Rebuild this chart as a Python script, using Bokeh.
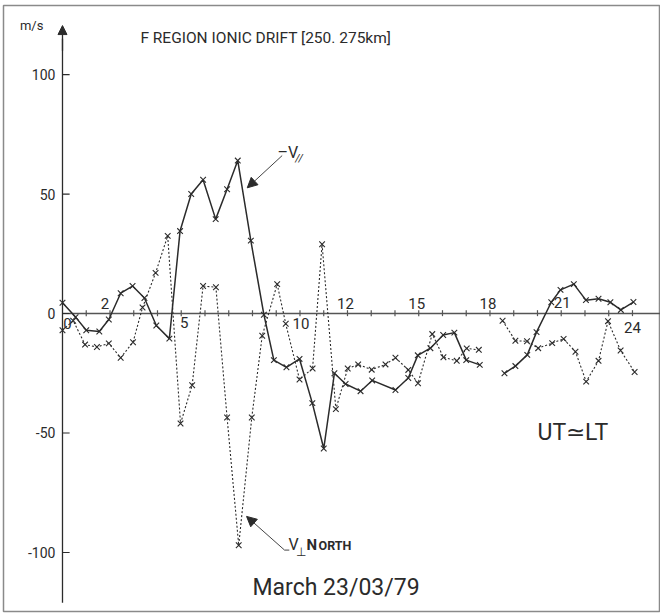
import numpy as np
from bokeh.plotting import figure
from bokeh.models import Range1d, Arrow, NormalHead
from bokeh.core.properties import value
from bokeh.embed import file_html
from bokeh.resources import INLINE

# ---------------- data ----------------
nan = np.nan
# -V// (solid line), hours UT
vpar_t = [0.0, 0.55, 1.0, 1.55, 1.95, 2.45, 2.95, 3.45, 3.95, 4.5,
          4.95, 5.42, 5.92, 6.45, 6.93, 7.38, 7.93, 8.48, 8.9, 9.43,
          9.98, 10.52, 11.0, 11.45, 11.92, 12.55, 13.04, 14.02, 14.56, 14.96,
          15.49, 16.03, 16.5, 17.0, 17.57, nan,
          18.61, 19.07, 19.57, 19.96, 20.58, 20.97, 21.53, 22.04, 22.57, 23.07,
          23.51, 24.04]
vpar_v = [4.5, -1.5, -7.0, -7.5, -2.5, 8.5, 11.5, 6.5, -5.0, -10.5,
          34.5, 50.0, 56.0, 39.5, 52.0, 64.0, 30.5, -0.5, -19.5, -22.5,
          -19.0, -37.5, -56.5, -25.0, -29.5, -32.5, -28.0, -32.0, -27.0, -17.5,
          -14.5, -9.0, -8.0, -19.5, -21.5, nan,
          -25.0, -22.0, -17.3, -7.8, 4.7, 9.9, 12.3, 5.6, 6.2, 4.7,
          1.5, 4.8]

# V_perp North (dotted line)
vperp_t = [0.0, 0.45, 0.95, 1.45, 1.95, 2.45, 2.97, 3.37, 3.92, 4.43,
           4.97, 5.46, 5.92, 6.46, 6.93, 7.42, 7.97, 8.41, 9.04, 9.4,
           9.98, 10.53, 10.93, 11.51, 12.01, 12.45, 13.02, 13.6, 14.02, 14.56,
           14.97, 15.57, 16.04, 16.6, 17.02, 17.53, nan,
           18.53, 19.07, 19.56, 20.03, 20.62, 21.1, 21.6, 22.05, 22.57, 22.97,
           23.5, 24.09]
vperp_v = [-7.0, -3.0, -13.0, -14.0, -12.5, -18.5, -12.0, 2.5, 17.0, 32.5,
           -46.0, -30.0, 11.5, 11.0, -43.5, -97.0, -43.5, -9.3, 12.3, -4.3,
           -27.6, -23.0, 29.0, -40.0, -23.0, -21.3, -23.5, -21.3, -18.5, -23.6,
           -29.2, -8.6, -18.3, -19.8, -14.6, -15.2, nan,
           -3.0, -11.4, -11.6, -14.5, -12.4, -10.6, -16.0, -28.5, -19.8, -3.2,
           -15.5, -24.5]

y_ticks = [100, 50, 0, -50, -100]
y_tick_labels = ["100", "50", "0", "-50", "-100"]
x_minor_ticks = list(range(1, 25))
x_tick_pos = [0, 2, 5, 10, 12, 15, 18, 21, 24]
x_tick_labels = ["0", "2", "5", "10", "12", "15", "18", "21", "24"]

# ---------------- styles ----------------
FONT = "Roboto"
INK = "#2b2b2b"
label_dy = [10, -10, 9, 10, -10, -10, -10, -11, 14]   # px, + is down
label_dx = [5, -5, 3, 1, -2, -2, -2, 1, 0]

p = figure(width=660, height=615, output_backend="svg", toolbar_location=None,
           x_range=Range1d(-2.484, 25.18), y_range=Range1d(-124.7, 128.9),
           x_axis_type=None, y_axis_type=None,
           min_border_left=3, min_border_top=5, min_border_right=0,
           min_border_bottom=4)
p.outline_line_color = "#8a8a8a"
p.outline_line_width = 1.5
p.background_fill_color = "white"
p.border_fill_color = "white"

# axes drawn at the data origin
p.line([0, 25.18], [0, 0], line_color="#555555", line_width=1.3)
p.line([0, 0], [-121, 115], line_color=INK, line_width=1.3)
p.add_layout(Arrow(x_start=0, y_start=110, x_end=0, y_end=120.5, line_color=INK,
                   line_width=1.3,
                   end=NormalHead(size=9, fill_color=INK, line_color=INK)))

# y ticks (inward, to the right) and labels
p.segment(x0=[0] * len(y_ticks), x1=[0.3] * len(y_ticks), y0=y_ticks, y1=y_ticks,
          line_color=INK, line_width=1.2)
p.text(x=[-0.3] * len(y_ticks), y=y_ticks, text=y_tick_labels,
       text_font=value(FONT), text_font_size=value("14px"), text_color=INK,
       text_align="right", text_baseline="middle")

# x ticks (crossing) and labels
p.segment(x0=x_minor_ticks, x1=x_minor_ticks, y0=[-1.1] * len(x_minor_ticks),
          y1=[1.4] * len(x_minor_ticks), line_color="#555555", line_width=1.2)
p.text(x=x_tick_pos, y=[0] * len(x_tick_pos), text=x_tick_labels,
       x_offset=label_dx, y_offset=label_dy,
       text_font=value(FONT), text_font_size=value("15px"), text_color=INK,
       text_align="center", text_baseline="middle")

# series
p.line(vpar_t, vpar_v, line_color=INK, line_width=1.5)
p.scatter(vpar_t, vpar_v, marker="x", size=8, line_color=INK, line_width=1.1)
p.line(vperp_t, vperp_v, line_color=INK, line_width=1.1, line_dash="2 2")
p.scatter(vperp_t, vperp_v, marker="x", size=8, line_color=INK, line_width=1.1)

# texts
p.text(x=[-1.3], y=[120.5], text=["m/s"], text_font=value(FONT),
       text_font_size=value("13px"), text_color=INK, text_align="center",
       text_baseline="middle")
p.text(x=[3.28], y=[115.5], text=["F REGION IONIC DRIFT [250. 275km]"],
       text_font=value(FONT), text_font_size=value("15.5px"), text_color=INK,
       text_align="left", text_baseline="middle")
p.text(x=[20.0], y=[-49.8], text=["UT\u2243LT"], text_font=value(FONT),
       text_font_size=value("23px"), text_color=INK, text_align="left",
       text_baseline="middle")
p.text(x=[8.0], y=[-114.6], text=["March 23/03/79"], text_font=value(FONT),
       text_font_size=value("23px"), text_color=INK, text_align="left",
       text_baseline="middle")

# -V// annotation
p.text(x=[9.05], y=[67.4], text=["\u2013V"], text_font=value(FONT),
       text_font_size=value("16px"), text_color=INK, text_align="left",
       text_baseline="middle")
p.text(x=[9.8], y=[64.8], text=["//"], text_font=value(FONT),
       text_font_size=value("11px"), text_color=INK, text_align="left",
       text_baseline="middle", text_font_style="italic")
p.add_layout(Arrow(x_start=9.25, y_start=66.1, x_end=7.78, y_end=52.6,
                   line_color="#444444", line_width=1.0,
                   end=NormalHead(size=10, fill_color=INK, line_color=INK)))

# V_perp North annotation
p.text(x=[9.52], y=[-96.7], text=["V"], text_font=value(FONT),
       text_font_size=value("16px"), text_color=INK, text_align="left",
       text_baseline="middle")
p.text(x=[9.85], y=[-99.8], text=["\u22a5"], text_font=value(FONT),
       text_font_size=value("12px"), text_color=INK, text_align="left",
       text_baseline="middle")
p.text(x=[10.27], y=[-96.8], text=["N"], text_font=value(FONT),
       text_font_size=value("15px"), text_color=INK, text_align="left",
       text_baseline="middle", text_font_style="bold")
p.text(x=[10.78], y=[-97.2], text=["ORTH"], text_font=value(FONT),
       text_font_size=value("12.5px"), text_color=INK, text_align="left",
       text_baseline="middle", text_font_style="bold")
p.add_layout(Arrow(x_start=9.35, y_start=-99.0, x_end=7.75, y_end=-84.9,
                   line_color="#444444", line_width=1.0,
                   end=NormalHead(size=10, fill_color=INK, line_color=INK)))
p.segment(x0=[9.35], x1=[9.55], y0=[-99.0], y1=[-99.0], line_color="#444444",
          line_width=1.0)

open("out.html", "w").write(file_html(p, INLINE))
